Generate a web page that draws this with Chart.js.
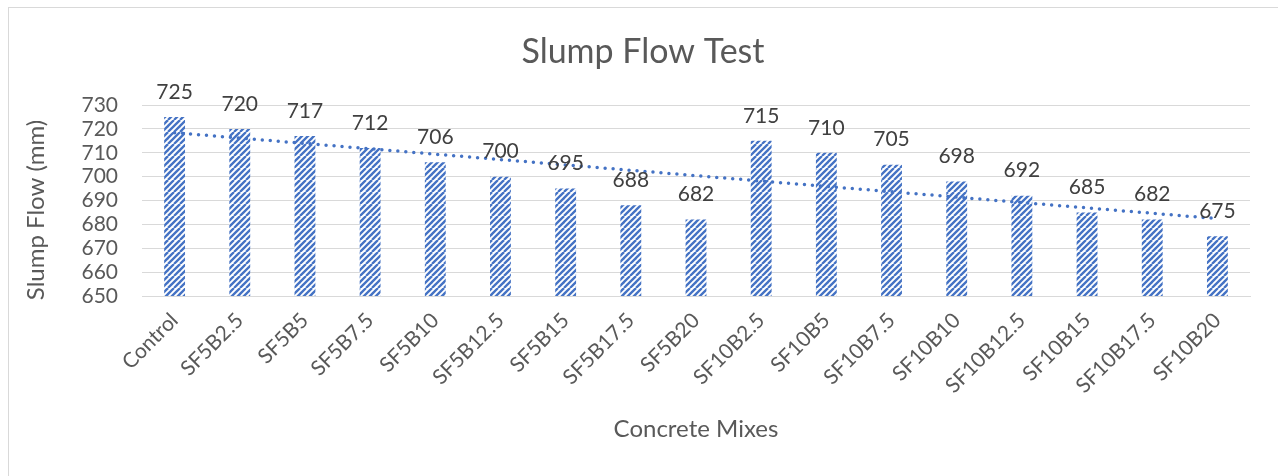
<!DOCTYPE html>
<html>
<head>
<meta charset="utf-8">
<script src="https://cdn.jsdelivr.net/npm/chart.js@4.4.1/dist/chart.umd.min.js"></script>
<style>
html,body{margin:0;padding:0;background:#fff;}
#wrap{width:1278px;height:476px;position:relative;}
</style>
</head>
<body>
<div id="wrap"><canvas id="c" width="1278" height="476"></canvas></div>
<script>
const categories = ["Control","SF5B2.5","SF5B5","SF5B7.5","SF5B10","SF5B12.5","SF5B15","SF5B17.5","SF5B20","SF10B2.5","SF10B5","SF10B7.5","SF10B10","SF10B12.5","SF10B15","SF10B17.5","SF10B20"];
const slumpFlow = [725,720,717,712,706,700,695,688,682,715,710,705,698,692,685,682,675];
const trendEnds = [718.4, 682.4];
const yTicks = {min:650, max:730, step:10};

const FONT = "Lato, 'Open Sans', sans-serif";
const BLUE = "#4472C4";

function makePattern(){
  const p = document.createElement('canvas');
  const s = 12;
  p.width = s; p.height = s;
  const g = p.getContext('2d');
  g.fillStyle = '#fff'; g.fillRect(0,0,s,s);
  g.strokeStyle = BLUE; g.lineWidth = 2.3;
  for (let x = -s; x <= 2*s; x += 6){
    g.beginPath(); g.moveTo(x, s); g.lineTo(x + s, 0); g.stroke();
  }
  return document.getElementById('c').getContext('2d').createPattern(p,'repeat');
}

const trendData = categories.map((_,i)=> i===0 ? trendEnds[0] : (i===categories.length-1 ? trendEnds[1] : null));

const frame = {
  id:'frame',
  beforeDraw(chart){
    const ctx = chart.ctx;
    ctx.save();
    ctx.fillStyle='#fff'; ctx.fillRect(0,0,chart.width,chart.height);
    ctx.strokeStyle='#d9d9d9'; ctx.lineWidth=1;
    ctx.strokeRect(8.5,7.5,chart.width+10,chart.height+10);
    ctx.fillStyle='#595959';
    ctx.font = "34px " + FONT;
    ctx.textAlign='center'; ctx.textBaseline='middle';
    ctx.fillText("Slump Flow Test", 643, 52);
    ctx.font = "24px " + FONT;
    ctx.translate(36, 210);
    ctx.rotate(-Math.PI/2);
    ctx.fillText("Slump Flow (mm)", 0, 0);
    ctx.restore();
  },
  afterDatasetsDraw(chart){
    const ctx = chart.ctx;
    const meta = chart.getDatasetMeta(1);
    ctx.save();
    ctx.fillStyle='#404040';
    ctx.font = "21px " + FONT;
    ctx.textAlign='center'; ctx.textBaseline='middle';
    meta.data.forEach((bar,i)=>{
      ctx.fillText(String(slumpFlow[i]), bar.x, bar.y - 25);
    });
    ctx.restore();
  }
};

new Chart(document.getElementById('c'), {
  data:{
    labels: categories,
    datasets:[
      {
        type:'line',
        data: trendData,
        spanGaps:true,
        borderColor: BLUE,
        borderWidth: 3.5,
        borderDash:[0,8],
        borderCapStyle:'round',
        pointRadius:0,
        fill:false,
        order:0
      },
      {
        type:'bar',
        data: slumpFlow,
        backgroundColor: makePattern(),
        borderWidth:0,
        categoryPercentage:1,
        barPercentage:0.32,
        order:1
      }
    ]
  },
  options:{
    responsive:false,
    animation:false,
    devicePixelRatio:1,
    layout:{padding:{top:105,left:18,right:28,bottom:24}},
    plugins:{legend:{display:false},title:{display:false},tooltip:{enabled:false}},
    scales:{
      x:{
        grid:{display:false},
        border:{display:true,color:'#d9d9d9',width:1},
        ticks:{color:'#595959',font:{family:FONT,size:21},minRotation:45,maxRotation:45,autoSkip:false,padding:4},
        title:{display:true,text:'Concrete Mixes',color:'#595959',font:{family:FONT,size:24},padding:{top:0,bottom:8}},
        afterFit(s){ s.height = 156; }
      },
      y:{
        min:yTicks.min, max:yTicks.max,
        ticks:{stepSize:yTicks.step,autoSkip:false,color:'#595959',font:{family:FONT,size:21},padding:24},
        grid:{color:'#d9d9d9',drawTicks:false,lineWidth:1},
        border:{display:false},
        title:{display:false},
        afterFit(s){ s.width = 124; }
      }
    }
  },
  plugins:[frame]
});
</script>
</body>
</html>
